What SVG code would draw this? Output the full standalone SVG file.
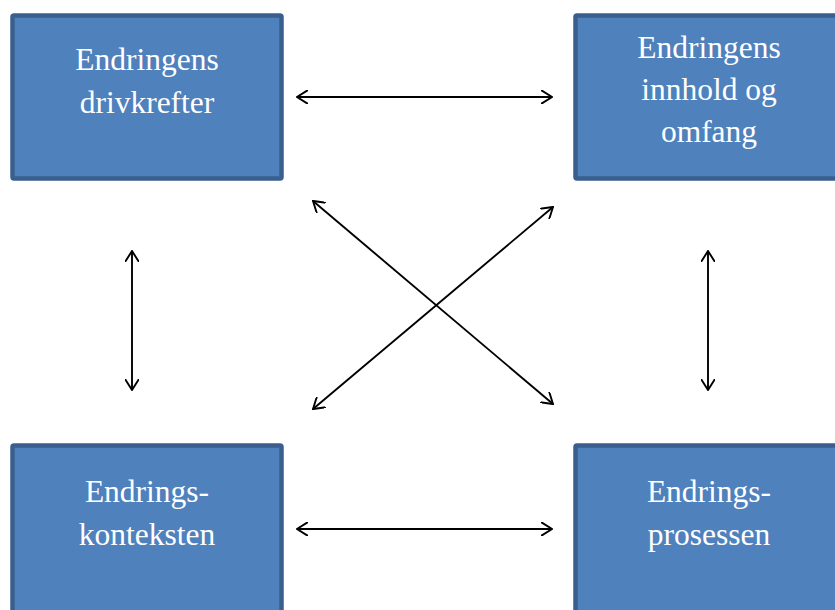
<svg xmlns="http://www.w3.org/2000/svg" width="835" height="610" viewBox="0 0 835 610">
<style>
.box{fill:#4f81bd;stroke:#3a5f8f;stroke-width:4.5}
.lbl{font-size:31.5px;fill:#ffffff;text-anchor:middle}
.con{stroke:#000;stroke-width:1.9;fill:none;marker-start:url(#ah);marker-end:url(#ah)}
</style>
<defs>
<marker id="ah" viewBox="0 0 12 14" refX="11" refY="7" markerWidth="12" markerHeight="14" markerUnits="userSpaceOnUse" orient="auto-start-reverse">
<path d="M0,0 L11,7 L0,14" fill="none" stroke="#000" stroke-width="1.9"/>
</marker>
</defs>
<rect width="835" height="610" fill="#ffffff"/>
<g font-family="Liberation Serif, Times New Roman, serif">
<g id="drivkrefter">
<rect class="box" x="12.5" y="15.5" width="269" height="163" rx="1.5"/>
<text class="lbl" x="147" y="70">Endringens</text>
<text class="lbl" x="147" y="113">drivkrefter</text>
</g>
<g id="innhold">
<rect class="box" x="575.5" y="15.5" width="269" height="163" rx="1.5"/>
<text class="lbl" x="709" y="58">Endringens</text>
<text class="lbl" x="709" y="100">innhold og</text>
<text class="lbl" x="709" y="142">omfang</text>
</g>
<g id="konteksten">
<rect class="box" x="12.5" y="445.5" width="269" height="180" rx="1.5"/>
<text class="lbl" x="147" y="502">Endrings-</text>
<text class="lbl" x="147" y="545">konteksten</text>
</g>
<g id="prosessen">
<rect class="box" x="575.5" y="445.5" width="269" height="180" rx="1.5"/>
<text class="lbl" x="709" y="502">Endrings-</text>
<text class="lbl" x="709" y="545">prosessen</text>
</g>
</g>
<g id="connectors">
<line class="con" x1="297" y1="97" x2="552" y2="97"/>
<line class="con" x1="297" y1="529" x2="552" y2="529"/>
<line class="con" x1="132" y1="251" x2="132" y2="390"/>
<line class="con" x1="708" y1="251" x2="708" y2="390"/>
<line class="con" x1="313" y1="201" x2="553" y2="404"/>
<line class="con" x1="313" y1="409" x2="553" y2="207"/>
</g>
</svg>
